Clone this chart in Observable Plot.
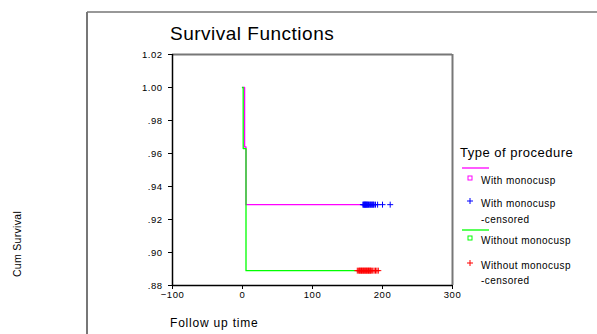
<!DOCTYPE html>
<html>
<head>
<meta charset="utf-8">
<script src="https://cdn.jsdelivr.net/npm/d3@7"></script>
<script src="https://cdn.jsdelivr.net/npm/@observablehq/plot@0.6"></script>
<style>
  html, body { margin: 0; padding: 0; background: #fff; }
  #chart { width: 597px; height: 334px; overflow: hidden; }
  svg { font-family: "Liberation Sans", Arial, sans-serif; }
</style>
</head>
<body>
<div id="chart"></div>
<script>
// ---- data ----
const groups = ["With monocusp", "Without monocusp"];
const groupColors = ["#ff00ff", "#00ff00"];
const censorColors = ["#0000ff", "#ff0000"];

// Kaplan-Meier step points (time, cumulative survival)
const withTimes = [0, 3, 5, 171];
const withSurv = [1.0, 0.964, 0.929, 0.929];
const withoutTimes = [0, 1, 5, 164];
const withoutSurv = [1.0, 0.963, 0.889, 0.889];

// censored observation times
const withCensored = [172, 173, 174, 174, 175, 176, 176, 177, 178, 178, 179, 180, 181, 182, 183, 184, 185, 186, 187, 188, 190, 193, 200, 211];
const withoutCensored = [164, 166, 167, 168, 169, 170, 171, 172, 173, 174, 175, 176, 177, 178, 179, 180, 181, 182, 183, 184, 186, 188, 190, 192, 194];

const xTicks = [-100, 0, 100, 200, 300];
const yTicks = [0.88, 0.90, 0.92, 0.94, 0.96, 0.98, 1.00, 1.02];

// ---- tables ----
const steps = [
  ...withTimes.map((t, i) => ({group: groups[0], t, s: withSurv[i]})),
  ...withoutTimes.map((t, i) => ({group: groups[1], t, s: withoutSurv[i]}))
];
const lastS = (surv) => surv[surv.length - 1];
const censored = [
  ...withCensored.map(t => ({group: groups[0], t, s: lastS(withSurv)})),
  ...withoutCensored.map(t => ({group: groups[1], t, s: lastS(withoutSurv)}))
];

const plusSymbol = {
  draw(ctx, size) {
    const r = Math.sqrt(size / Math.PI);
    ctx.moveTo(-r, 0); ctx.lineTo(r, 0);
    ctx.moveTo(0, -r); ctx.lineTo(0, r);
  }
};

const chart = Plot.plot({
  width: 597,
  height: 334,
  marginLeft: 172,
  marginRight: 145,
  marginTop: 54,
  marginBottom: 49,
  style: {fontFamily: "'Liberation Sans', Arial, sans-serif", fontSize: "9.5px", letterSpacing: "0.5px", background: "#fff", color: "#000", overflow: "visible"},
  x: {domain: [-100, 300], ticks: xTicks, tickSize: 4, tickPadding: 2, label: null},
  y: {domain: [0.88, 1.02], ticks: yTicks, tickSize: 4, tickPadding: 6, label: null,
      tickFormat: d => d >= 1 ? d.toFixed(2) : d.toFixed(2).slice(1)},
  color: {domain: groups, range: groupColors},
  marks: [
    Plot.ruleY([1.02], {stroke: "#777", strokeWidth: 2}),
    Plot.ruleX([300], {stroke: "#777", strokeWidth: 2}),
    Plot.line(steps, {x: "t", y: "s", z: "group", stroke: "group", curve: "step-after", strokeWidth: 1.3}),
    Plot.dot(censored.filter(d => d.group === groups[0]), {x: "t", y: "s", symbol: plusSymbol, r: 3, stroke: censorColors[0], fill: "none", strokeWidth: 1}),
    Plot.dot(censored.filter(d => d.group === groups[1]), {x: "t", y: "s", symbol: plusSymbol, r: 3, stroke: censorColors[1], fill: "none", strokeWidth: 1}),
    Plot.ruleX([-100], {stroke: "#000", strokeWidth: 1.5}),
    Plot.ruleY([0.88], {stroke: "#000", strokeWidth: 1.5})
  ]
});

document.getElementById("chart").appendChild(chart);

// ---- decorations: frame, title, axis labels, legend ----
const svg = d3.select(chart);
const font = "'Liberation Sans', Arial, sans-serif";
svg.append("line").attr("x1", 87).attr("x2", 597).attr("y1", 12).attr("y2", 12).attr("stroke", "#333").attr("stroke-width", 1.2);
svg.append("line").attr("x1", 87).attr("x2", 87).attr("y1", 12).attr("y2", 334).attr("stroke", "#777").attr("stroke-width", 2);

const deco = svg.append("g").attr("font-family", font).attr("fill", "#000").attr("text-anchor", "start");
deco.append("text").attr("x", 170).attr("y", 40).attr("font-size", 19).attr("letter-spacing", "0.5px").text("Survival Functions");
deco.append("text").attr("x", 170).attr("y", 327).attr("font-size", 12).attr("letter-spacing", "0.8px").text("Follow up time");
deco.append("text").attr("transform", "translate(21,244) rotate(-90)").attr("text-anchor", "middle")
  .attr("font-size", 10.5).attr("letter-spacing", "0.3px").text("Cum Survival");

const lg = svg.append("g").attr("font-family", font).attr("fill", "#000").attr("text-anchor", "start");
lg.append("text").attr("x", 460).attr("y", 157).attr("font-size", 13).attr("letter-spacing", "0.5px").text("Type of procedure");
const legendItems = [
  {kind: "line", color: groupColors[0], y: 168},
  {kind: "square", color: groupColors[0], y: 178, lines: [groups[0]], ty: 183.5},
  {kind: "plus", color: censorColors[0], y: 201, lines: [groups[0], "-censored"], ty: 207},
  {kind: "line", color: groupColors[1], y: 230},
  {kind: "square", color: groupColors[1], y: 238, lines: [groups[1]], ty: 244},
  {kind: "plus", color: censorColors[1], y: 263, lines: [groups[1], "-censored"], ty: 268.5}
];
for (const it of legendItems) {
  if (it.kind === "line") {
    lg.append("line").attr("x1", 462).attr("x2", 489).attr("y1", it.y).attr("y2", it.y).attr("stroke", it.color).attr("stroke-width", 1.3);
  } else if (it.kind === "square") {
    lg.append("rect").attr("x", 468).attr("y", it.y - 2).attr("width", 4).attr("height", 4).attr("fill", "none").attr("stroke", it.color).attr("stroke-width", 1);
  } else {
    lg.append("path").attr("d", `M467,${it.y}h6M470,${it.y - 3}v6`).attr("stroke", it.color).attr("stroke-width", 1).attr("fill", "none");
  }
  if (it.lines) {
    it.lines.forEach((t, i) => {
      lg.append("text").attr("x", 481).attr("y", it.ty + i * 15.5).attr("font-size", 10).attr("letter-spacing", "0.45px").text(t);
    });
  }
}
</script>
</body>
</html>
